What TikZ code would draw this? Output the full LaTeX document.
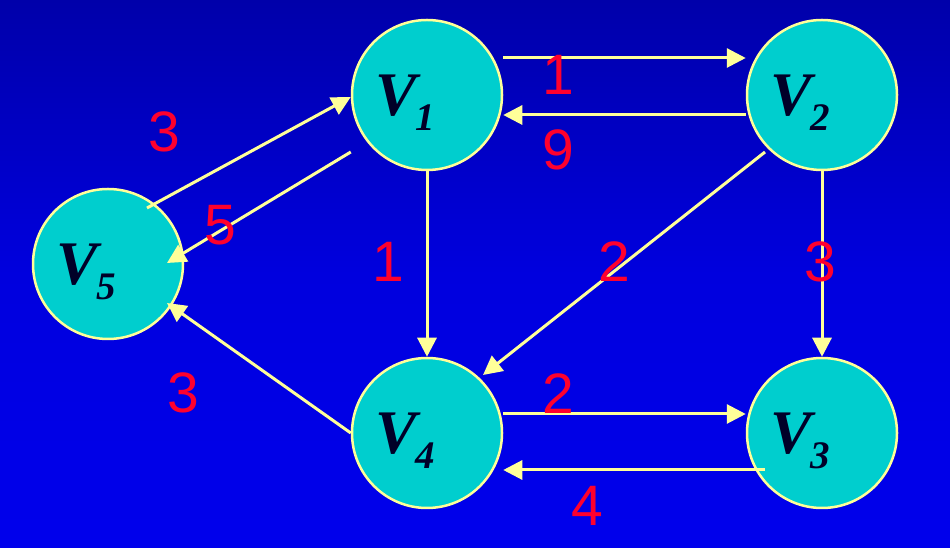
\documentclass[tikz,border=0pt]{standalone}
\usepackage{fontspec}
\setmainfont{Liberation Serif}
\newfontfamily\numfont{Liberation Sans}
\usepackage{tikz}
\usetikzlibrary{arrows.meta}
\definecolor{bgtop}{RGB}{0,0,170}
\definecolor{bgmid}{RGB}{0,0,222}
\definecolor{bgbot}{RGB}{0,0,236}
\definecolor{teal}{RGB}{0,206,206}
\definecolor{pale}{RGB}{255,255,153}
\definecolor{wred}{RGB}{255,0,45}
\definecolor{ink}{RGB}{0,0,40}
\newcommand{\vtx}[1]{\fontsize{62}{62}\selectfont\bfseries\itshape V\kern-1pt\raisebox{-15pt}{\fontsize{39}{39}\selectfont #1}\hspace*{44pt}}
\tikzset{
	vert/.style={circle,draw=pale,line width=2.5pt,fill=teal,minimum size=150pt,inner sep=0pt,text=ink,text depth=0pt},
	edge/.style={draw=pale,line width=3pt,-{Triangle[length=19pt,width=19pt]}},
	wt/.style={text=wred,font=\numfont\fontsize{57}{57}\selectfont,inner sep=0pt}
}
\begin{document}
\begin{tikzpicture}[x=1pt,y=1pt]
	\shade[top color=bgtop,bottom color=bgbot,middle color=bgmid] (0,0) rectangle (950,548);
	\useasboundingbox (0,0) rectangle (950,548);
	\node[vert] (v1) at (427,453) {\vtx{1}};
	\node[vert] (v2) at (822,453) {\vtx{2}};
	\node[vert] (v3) at (822,115) {\vtx{3}};
	\node[vert] (v4) at (427,115) {\vtx{4}};
	\node[vert] (v5) at (108,284) {\vtx{5}};
	\draw[edge] ([yshift=37]v1.east) -- ([yshift=37]v2.west);
	\draw[edge] ([yshift=-20]v2.west) -- ([yshift=-20]v1.east);
	\draw[edge] (v1.south) -- (v4.north);
	\draw[edge] (v2.south) -- (v3.north);
	\draw[edge] ([shift={(-57,-57)}]v2.center) -- ([shift={(56,58)}]v4.center);
	\draw[edge] ([yshift=19]v4.east) -- ([yshift=19]v3.west);
	\draw[edge] ([shift={(19,-37)}]v3.west) -- ([yshift=-37]v4.east);
	\draw[edge] ([shift={(39,56)}]v5.center) -- ([yshift=-2]v1.west);
	\draw[edge] ([yshift=-57]v1.west) -- ([shift={(59,1)}]v5.center);
	\draw[edge] (v4.west) -- ([shift={(59,-39)}]v5.center);
	\node[wt] (w12) at (558,473) {1};
	\node[wt] (w21) at (558,398) {9};
	\node[wt] (w51) at (164,416) {3};
	\node[wt] (w15) at (220,323) {5};
	\node[wt] (w14) at (388,286) {1};
	\node[wt] (w24) at (614,286) {2};
	\node[wt] (w23) at (820,286) {3};
	\node[wt] (w45) at (183,155) {3};
	\node[wt] (w43) at (558,154) {2};
	\node[wt] (w34) at (587,42) {4};
\end{tikzpicture}
\end{document}
